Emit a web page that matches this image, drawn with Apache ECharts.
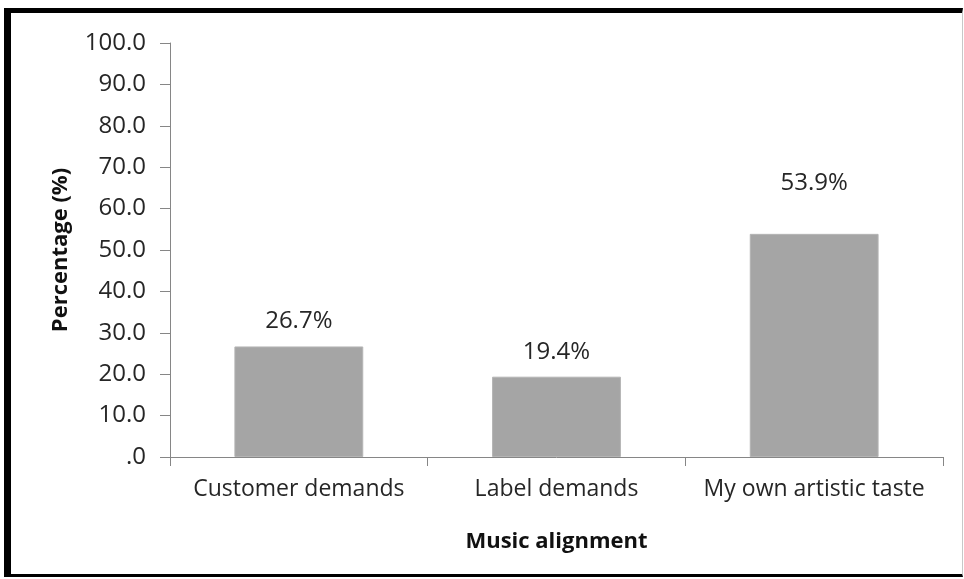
<!DOCTYPE html>
<html>
<head>
<meta charset="utf-8">
<script src="https://cdn.jsdelivr.net/npm/echarts@6/dist/echarts.min.js"></script>
<style>
  html, body { margin: 0; padding: 0; background: #fff; }
  #frame {
    position: absolute; left: 4px; top: 8px; width: 959px; height: 569px;
    border-left: 7px solid #000; border-top: 5px solid #000;
    border-bottom: 3px solid #000; border-right: 1px solid #c8c8c8;
    box-sizing: border-box;
  }
  #chart { position: absolute; left: 0; top: 0; width: 964px; height: 579px; }
</style>
</head>
<body>
<div id="frame"></div>
<div id="chart"></div>
<script>
// Survey answers: what the music is aligned with
const categories = ['Customer demands', 'Label demands', 'My own artistic taste'];
const percentages = [26.7, 19.4, 53.9];
const yTicks = { min: 0, max: 100, interval: 10 };

const font = '"Open Sans", "Liberation Sans", sans-serif';
const textColor = '#262626';
const axisColor = '#868686';

const chart = echarts.init(document.getElementById('chart'), null, { renderer: 'canvas' });

chart.setOption({
  animation: false,
  backgroundColor: 'transparent',
  grid: { left: 170, right: 21, top: 43, bottom: 122, containLabel: false },
  xAxis: {
    type: 'category',
    data: categories,
    name: 'Music alignment',
    nameLocation: 'middle',
    nameGap: 74,
    nameTextStyle: { fontFamily: font, fontWeight: 'bold', fontSize: 22, color: '#111' },
    axisLine: { lineStyle: { color: axisColor, width: 1 } },
    axisTick: { show: true, length: 9, lineStyle: { color: axisColor } },
    axisLabel: { interval: 0, fontFamily: font, fontSize: 23, color: textColor, margin: 21 }
  },
  yAxis: {
    type: 'value',
    min: yTicks.min, max: yTicks.max, interval: yTicks.interval,
    name: 'Percentage (%)',
    nameLocation: 'middle',
    nameGap: 98,
    nameTextStyle: { fontFamily: font, fontWeight: 'bold', fontSize: 22, color: '#111' },
    axisLine: { show: true, lineStyle: { color: axisColor, width: 1 } },
    axisTick: { show: true, length: 10, inside: false, lineStyle: { color: axisColor } },
    splitLine: { show: false },
    axisLabel: {
      fontFamily: font, fontSize: 24, color: textColor, margin: 24,
      formatter: v => v === 0 ? '.0' : v.toFixed(1)
    }
  },
  series: [{
    type: 'bar',
    barWidth: '50%',
    data: percentages.map((v, i) => ({
      value: v,
      label: i === 2 ? { offset: [0, -26] } : undefined
    })),
    itemStyle: { color: '#a5a5a5', borderColor: '#b4b4b4', borderWidth: 1 },
    label: {
      show: true, position: 'top', distance: 13,
      fontFamily: font, fontSize: 24, color: textColor,
      formatter: p => p.value.toFixed(1) + '%'
    }
  }]
});
</script>
</body>
</html>
